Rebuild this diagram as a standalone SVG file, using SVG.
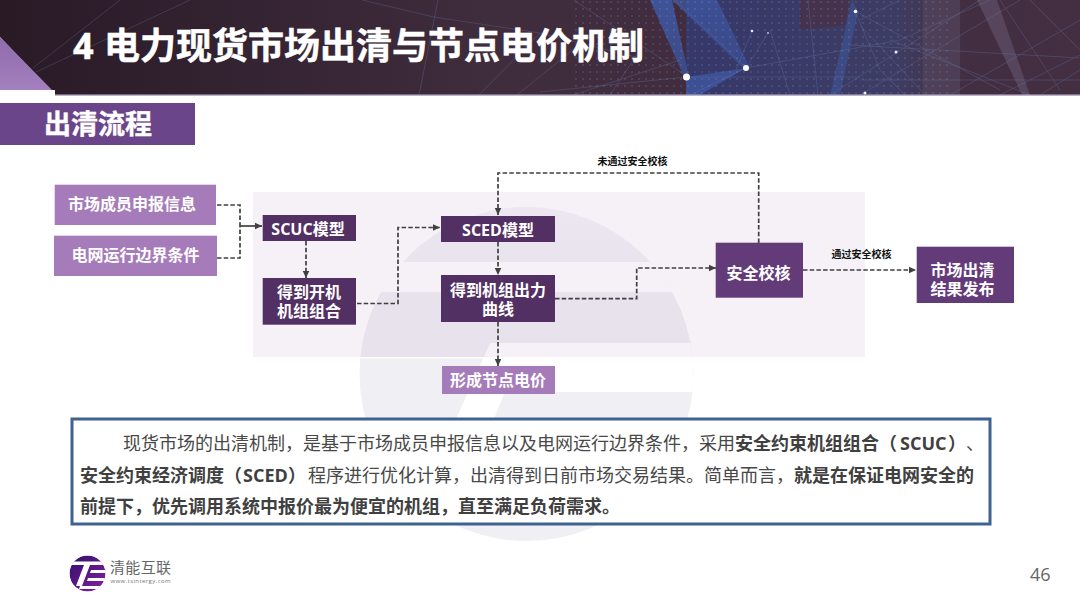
<svg xmlns="http://www.w3.org/2000/svg" width="1080" height="608" viewBox="0 0 1080 608">
<style>
text{font-family:"Open Sans","Noto Sans CJK SC",sans-serif}
.n{fill:#fff;font-weight:700;font-size:16px;text-anchor:middle}
.dark{fill:#533063}
.mid{fill:#643b79}
.light{fill:#a57cb9}
.c{fill:none;stroke:#404040;stroke-width:1.7;stroke-dasharray:4.5 2.2}
.cs{fill:none;stroke:#404040;stroke-width:1.7}
.e{font-size:10px;font-weight:700;fill:#111;text-anchor:middle}
.b{font-size:18px;fill:#484848}
.bb{font-size:18px;fill:#404040;font-weight:700}
.l{stroke:#6a80b0;stroke-width:.7;opacity:.42;fill:none}
</style>
<defs>
<linearGradient id="hd" x1="0" x2="1" y1="0" y2="0"><stop offset="0" stop-color="#291a26"/><stop offset=".45" stop-color="#3f2c3d"/><stop offset="1" stop-color="#432e42"/></linearGradient>
<linearGradient id="bl" x1="0" x2="1" y1="0" y2="0"><stop offset="0" stop-color="#36386a"/><stop offset=".75" stop-color="#3d3c64"/><stop offset="1" stop-color="#4a3f5e" stop-opacity="0"/></linearGradient>
<linearGradient id="beam" x1="0" x2="0" y1="0" y2="1"><stop offset="0" stop-color="#3f5aa8"/><stop offset="1" stop-color="#3b4f94"/></linearGradient>
<linearGradient id="tri" x1="0" x2="0" y1="0" y2="1"><stop offset="0" stop-color="#8f6aae"/><stop offset="1" stop-color="#a580bd"/></linearGradient>
<linearGradient id="lg" x1="0" x2="1" y1="0" y2="1"><stop offset="0" stop-color="#2d0f66"/><stop offset="1" stop-color="#8a1fa8"/></linearGradient>
<linearGradient id="wf" x1="0" x2="0" y1="0" y2="1"><stop offset="0" stop-color="#f6f5f8"/><stop offset=".3" stop-color="#f0eff4"/><stop offset="1" stop-color="#f0eff4"/></linearGradient>
<pattern id="dots" width="7" height="7" patternUnits="userSpaceOnUse"><circle cx="2" cy="2" r=".7" fill="#a9afcb" opacity=".4"/></pattern>
<clipPath id="wm"><circle cx="526.5" cy="374" r="167"/></clipPath>
<clipPath id="hc"><rect x="0" y="0" width="1080" height="95"/></clipPath>
<clipPath id="lc"><circle cx="87.5" cy="573.5" r="18"/></clipPath>
<marker id="a" markerUnits="userSpaceOnUse" markerWidth="9" markerHeight="8" refX="7.5" refY="4" orient="auto"><path d="M0 .5L7.5 4L0 7.5z" fill="#404040"/></marker>
</defs>
<rect width="1080" height="608" fill="#fff"/>
<g id="watermark">
<g clip-path="url(#wm)">
<rect x="350" y="200" width="360" height="350" fill="url(#wf)"/>
<rect x="350" y="262" width="360" height="30" fill="#fff"/>
<path d="M350 262L408 262L350 320z" fill="#fff"/>
<path d="M535 343H710V392H505L442 545H400L490 343z" fill="#fff"/>
</g>
</g>
<rect id="panel" x="253" y="192" width="612" height="165" fill="#6b3f8a" fill-opacity=".07"/>
<rect x="360" y="357" width="333" height="1.5" fill="#fff"/>
<g id="header" clip-path="url(#hc)">
<path d="M0 0H1080V95H55L0 37z" fill="url(#hd)"/>
<rect x="686" y="0" width="280" height="95" fill="url(#bl)"/>
<path d="M800 0H850L845 25L800 30z" fill="#4a3144" opacity=".7"/>
<path d="M686 95L686 77L746 68L700 95z" fill="#3d4f95"/>
<path d="M650 0H672L689 77L684 77z" fill="url(#beam)" opacity=".85"/>
<path d="M672 0H717L750 68L743 68z" fill="url(#beam)" opacity=".7"/>
<path d="M852 0L858 12L840 95H830z" fill="#3d518f" opacity=".75"/>
<rect x="923" y="0" width="37" height="95" fill="#57485f" opacity=".6"/>
<path d="M977 0H997L1030 95H1022z" fill="#5f5068" opacity=".7"/>
<path d="M575 0H950V95H575z" fill="url(#dots)"/>
<g class="l">
<path d="M33 68L120 0M36 72L190 0M362 0L434 17L540 33L640 58M438 0L419 95M540 33L479 95M517 95L575 48"/>
<path d="M574 0L688 77M540 92L686 77M573 95L680 60M610 95L640 50M675 0L746 68M746 68L690 95M752 31L736 70M768 33L746 68"/>
<path d="M686 77H860M855 11L1000 90M746 68L900 40L990 0M808 0L818 95M770 30L790 95M855 11L880 70L905 95M830 95L980 0"/>
<path d="M850 45L1080 58M860 80H1080M860 95L1020 0M890 40L1030 95M950 95L1080 20M1000 0L1060 90M1030 0L1080 50M1080 55L1000 95"/>
<path d="M860 20L900 0M860 25L925 95M1040 95L1080 70"/>
</g>
<circle cx="686.5" cy="77" r="3.5" fill="#fff"/>
<circle cx="746" cy="68" r="3" fill="#fff"/>
<circle cx="855.5" cy="11.5" r="1.8" fill="#fff"/>
<circle cx="752" cy="31" r="1.3" fill="#e8e8f0"/>
<circle cx="768" cy="33" r=".9" fill="#c8c8e0"/>
<circle cx="896" cy="52" r="1.5" fill="#f0f0f0"/>
<circle cx="865" cy="93" r="1.5" fill="#f0f0f0"/>
</g>
<rect x="0" y="94.5" width="1080" height="1.5" fill="#bdb5cb"/>
<path d="M0 37L52 90H0z" fill="url(#tri)"/>
<rect x="0" y="90" width="55" height="6" fill="#fff"/>
<text x="73" y="59" font-size="36" font-weight="700" fill="#fff" stroke="#fff" stroke-width=".5"><tspan x="73">4</tspan><tspan x="104">电力现货市场出清与节点电价机制</tspan></text>
<g id="section">
<rect x="0" y="103" width="195" height="42" fill="#6b4589"/>
<text x="98" y="134" font-size="27" font-weight="700" fill="#fff" text-anchor="middle" stroke="#fff" stroke-width=".4">出清流程</text>
</g>
<g id="connectors">
<path class="c" d="M217 205H240V226"/>
<path class="c" d="M217 258H240V226"/>
<path class="cs" d="M240 226H262" marker-end="url(#a)"/>
<path class="c" d="M306 241V278" marker-end="url(#a)"/>
<path class="c" d="M357 303.500H398V227.500H440" marker-end="url(#a)"/>
<path class="c" d="M498 242V275" marker-end="url(#a)"/>
<path class="c" d="M498 322V366" marker-end="url(#a)"/>
<path class="c" d="M555 298.700H636.700V268H716" marker-end="url(#a)"/>
<path class="c" d="M803 270H916" marker-end="url(#a)"/>
<path class="c" d="M758.700 243V173H498V215" marker-end="url(#a)"/>
</g>
<text class="e" x="632.500" y="165">未通过安全校核</text>
<text class="e" x="861.500" y="258">通过安全校核</text>
<g id="n-member"><rect class="light" x="54.700" y="184.700" width="161.300" height="40.300"/><text class="n" x="132" y="210">市场成员申报信息</text></g>
<g id="n-grid"><rect class="light" x="54" y="235.700" width="163" height="40.300"/><text class="n" x="135.500" y="261">电网运行边界条件</text></g>
<g id="n-scuc"><rect class="dark" x="262.700" y="215" width="93.300" height="26"/><text class="n" x="308" y="235">SCUC模型</text></g>
<g id="n-open"><rect class="dark" x="262.700" y="278" width="93.300" height="46.700"/><text class="n" y="298"><tspan x="309">得到开机</tspan><tspan x="309" dy="19">机组组合</tspan></text></g>
<g id="n-sced"><rect class="dark" x="441" y="216" width="114" height="26"/><text class="n" x="498" y="236">SCED模型</text></g>
<g id="n-output"><rect class="dark" x="441" y="275" width="114" height="47"/><text class="n" y="295.500"><tspan x="498">得到机组出力</tspan><tspan x="498" dy="19">曲线</tspan></text></g>
<g id="n-price"><rect class="light" x="442" y="366" width="113" height="28"/><text class="n" x="498" y="386">形成节点电价</text></g>
<g id="n-check"><rect class="mid" x="715.700" y="242.700" width="87.300" height="55"/><text class="n" x="758.500" y="278.500">安全校核</text></g>
<g id="n-result"><rect class="mid" x="916.700" y="246.700" width="97.300" height="56.300"/><text class="n" y="275.500"><tspan x="962.500">市场出清</tspan><tspan x="962.500" dy="19.500">结果发布</tspan></text></g>
<g id="summary">
<rect x="72" y="419" width="918" height="105" fill="#fff" stroke="#3f6391" stroke-width="3"/>
<text y="450"><tspan class="b" x="123">现货市场的出清机制，是基于市场成员申报信息以及电网运行边界条件，采用</tspan><tspan class="bb" x="735">安全约束机组组合（</tspan><tspan class="bb" x="900">SCUC</tspan><tspan class="bb" x="948">）</tspan><tspan class="b" x="966">、</tspan></text>
<text y="481.500"><tspan class="bb" x="80">安全约束经济调度（</tspan><tspan class="bb" x="243">SCED</tspan><tspan class="bb" x="288">）</tspan><tspan class="b" x="308">程序进行优化计算，出清得到日前市场交易结果。简单而言，</tspan><tspan class="bb" x="794">就是在保证电网安全的</tspan></text>
<text y="512.500" class="bb" x="80">前提下，优先调用系统中报价最为便宜的机组，直至满足负荷需求。</text>
</g>
<g id="logo">
<g clip-path="url(#lc)">
<circle cx="87.500" cy="573.500" r="18" fill="url(#lg)"/>
<path d="M70 561.500H106V565H70z" fill="#fff"/>
<path d="M84 565H90L82 586H76z" fill="#fff"/>
<path d="M91 570H106V573H90zM88 578H106V581H87z" fill="#fff"/>
<path d="M80 586H106V589H79z" fill="#fff"/>
</g>
<text x="110" y="573" font-size="15" fill="#666" textLength="61">清能互联</text>
<text x="110.500" y="583" font-size="6" fill="#777" textLength="60">www.tsintergy.com</text>
</g>
<text x="1030" y="581" font-size="18" fill="#666">46</text>
</svg>
